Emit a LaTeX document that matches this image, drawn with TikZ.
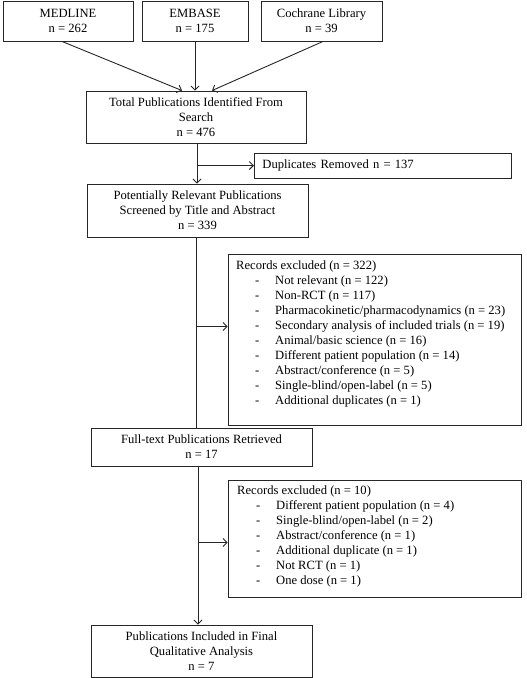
\documentclass[tikz,border=0pt]{standalone}
\usepackage{fontspec}
\setmainfont{Liberation Serif}
\usetikzlibrary{arrows.meta}
\newcommand{\itm}[1]{\makebox[39pt][l]{\hspace{19pt}-}#1}
\begin{document}
\begin{tikzpicture}[x=1pt,y=-1pt,
  box/.style={draw=black!85, line width=0.9pt, align=center, inner sep=0pt,
    font=\fontsize{12.6}{15}\selectfont},
  txt/.style={align=left, inner sep=0pt, font=\fontsize{12.6}{15}\selectfont},
  arr/.style={-{Straight Barb[length=4pt,width=8pt]}, line width=0.9pt, draw=black!85},
  ln/.style={line width=0.9pt, draw=black!85}]
\useasboundingbox (0,0) rectangle (527,678);
\node[box, minimum width=130pt, minimum height=40pt] (med) at (68,21) {MEDLINE\\n = 262};
\node[box, minimum width=106pt, minimum height=40pt] (emb) at (195,21) {EMBASE\\n = 175};
\node[box, minimum width=121pt, minimum height=40pt] (coc) at (321.5,21) {Cochrane Library\\n = 39};
\node[box, minimum width=220pt, minimum height=52pt] (tot) at (196,117) {Total Publications Identified From\\Search\\n = 476};
\node[box, anchor=west, text width=241pt, inner xsep=8pt, align=left, minimum height=25pt] (dup) at (254,165.5) {Duplicates Removed n = 137};
\node[box, minimum width=221pt, minimum height=53pt] (pot) at (197.5,210.5) {Potentially Relevant Publications\\Screened by Title and Abstract\\n = 339};
\node[box, minimum width=293pt, minimum height=171pt] (rec1) at (374.5,339.5) {};
\node[txt, anchor=west] (rec1t) at (236,334) {Records excluded (n = 322)\\
\itm{Not relevant (n = 122)}\\
\itm{Non-RCT (n = 117)}\\
\itm{Pharmacokinetic/pharmacodynamics (n = 23)}\\
\itm{Secondary analysis of included trials (n = 19)}\\
\itm{Animal/basic science (n = 16)}\\
\itm{Different patient population (n = 14)}\\
\itm{Abstract/conference (n = 5)}\\
\itm{Single-blind/open-label (n = 5)}\\
\itm{Additional duplicates (n = 1)}};
\node[box, minimum width=221pt, minimum height=38pt] (ft) at (201.5,447) {Full-text Publications Retrieved\\n = 17};
\node[box, minimum width=293pt, minimum height=117pt] (rec2) at (374.5,538.5) {};
\node[txt, anchor=west] (rec2t) at (237,536.5) {Records excluded (n = 10)\\
\itm{Different patient population (n = 4)}\\
\itm{Single-blind/open-label (n = 2)}\\
\itm{Abstract/conference (n = 1)}\\
\itm{Additional duplicate (n = 1)}\\
\itm{Not RCT (n = 1)}\\
\itm{One dose (n = 1)}};
\node[box, minimum width=221pt, minimum height=52pt] (fin) at (201.5,651) {Publications Included in Final\\Qualitative Analysis\\n = 7};
% connectors
\draw[arr] ([xshift=-6pt]med.south) -- ([xshift=-14pt]tot.north);
\draw[arr] (emb.south) -- (emb.south |- tot.north);
\draw[arr] ([xshift=1.5pt]coc.south) -- ([xshift=16pt]tot.north);
\draw[arr] ([xshift=1pt]tot.south) -- ([xshift=1pt]tot.south |- pot.north);
\coordinate (b1) at ([xshift=1pt]tot.south |- dup.west);
\draw[arr] (b1) -- (dup.west);
\draw[ln] ([xshift=-1.5pt]pot.south) -- ([xshift=-1.5pt]pot.south |- ft.north);
\coordinate (b2) at ([xshift=-1.5pt,yshift=13pt]pot.south |- rec1.west);
\draw[arr] (b2) -- ([yshift=13pt]rec1.west);
\draw[arr] ([xshift=-3.5pt]ft.south) -- ([xshift=-3.5pt]ft.south |- fin.north);
\coordinate (b3) at ([xshift=-3.5pt,yshift=-4pt]ft.south |- rec2.west);
\draw[arr] (b3) -- ([yshift=-4pt]rec2.west);
\end{tikzpicture}
\end{document}
